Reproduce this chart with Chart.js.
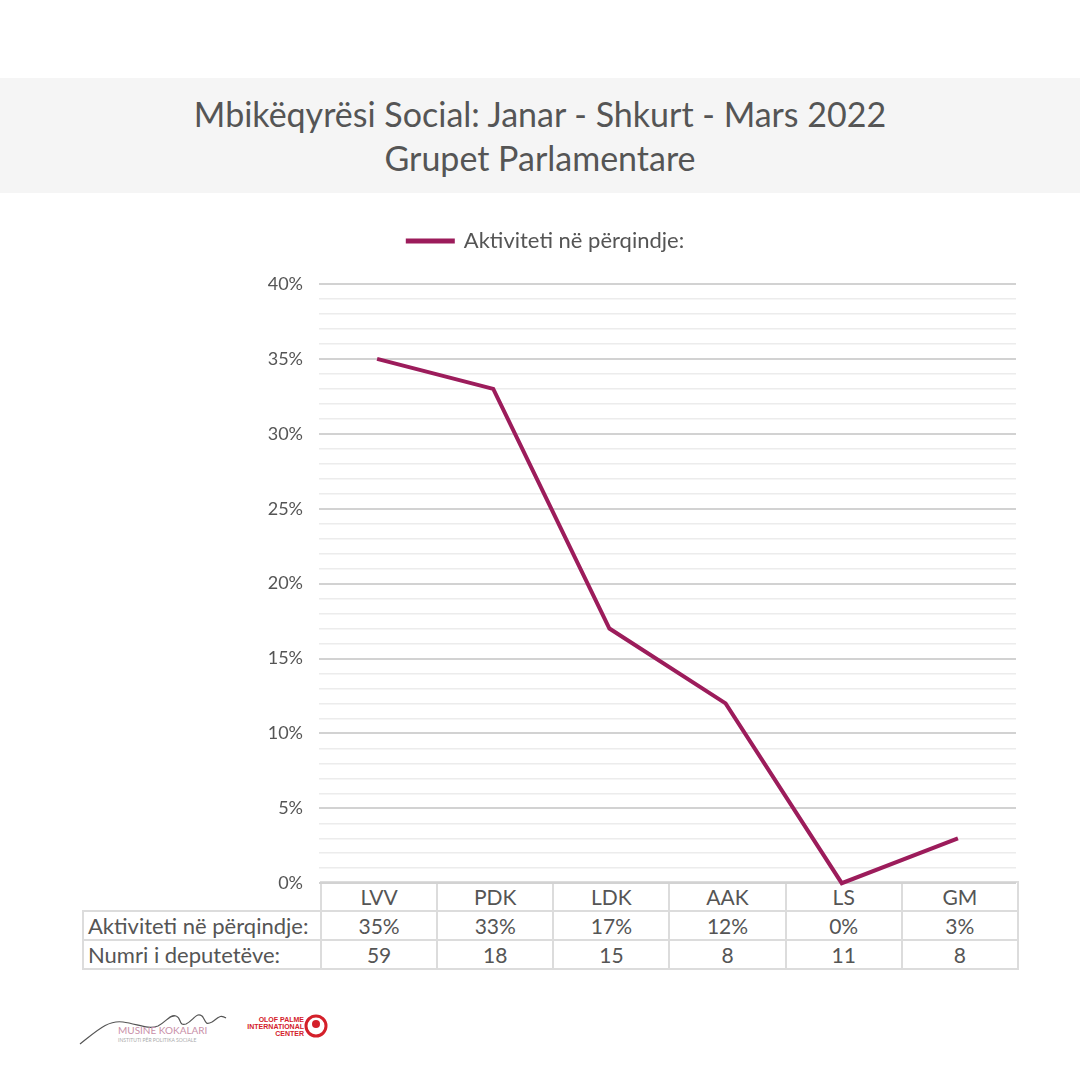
<!DOCTYPE html>
<html>
<head>
<meta charset="utf-8">
<script src="https://cdn.jsdelivr.net/npm/chart.js@4/dist/chart.umd.min.js"></script>
<style>
  html, body { margin: 0; padding: 0; background: #fff; }
  body { width: 1080px; height: 1080px; position: relative; overflow: hidden; font-family: 'Lato', sans-serif; color: #555; }
  .banner { position: absolute; left: 0; top: 78px; width: 1080px; height: 115px; background: #f5f5f5; }
  .banner h1 { margin: 0; padding-top: 14px; font-weight: 400; font-size: 34px; line-height: 44px; text-align: center; color: #555; }
  .wrap { position: absolute; left: 0; top: 220px; width: 1080px; height: 690px; z-index: 2; }
  table.datos { position: absolute; left: 82px; top: 881px; border-collapse: collapse; font-size: 21px; color: #555; z-index: 1; }
  table.datos td { border: 2px solid #dcdcdc; text-align: center; padding: 0; height: 27px; line-height: 26px; }
  table.datos td.etq { text-align: left; padding-left: 4px; font-size: 22px; }
  table.datos td.vacio { border: none; border-bottom: 2px solid #dcdcdc; }
  .logos { position: absolute; left: 78px; top: 1000px; width: 300px; height: 50px; }
</style>
</head>
<body>
<div class="banner"><h1>Mbikëqyrësi Social: Janar - Shkurt - Mars 2022<br>Grupet Parlamentare</h1></div>
<div class="wrap"><canvas id="chart-grupos"></canvas></div>
<table class="datos" id="tabla-datos"></table>
<svg class="logos" viewBox="0 0 300 50" xmlns="http://www.w3.org/2000/svg">
  <path d="M2 44 C 20 30, 30 20, 45 22 C 60 24, 70 30, 80 26 C 88 22, 92 14, 98 16 C 104 18, 100 26, 108 24 C 116 20, 118 12, 124 16 C 128 20, 126 26, 134 22 C 140 18, 142 14, 148 18" fill="none" stroke="#555" stroke-width="1.2"/>
  <text x="40" y="34" font-family="Lato, sans-serif" font-size="10" fill="#c98fa8">MUSINE KOKALARI</text>
  <text x="40" y="42" font-family="Lato, sans-serif" font-size="5" fill="#aaa">INSTITUTI PËR POLITIKA SOCIALE</text>
  <text x="226" y="22" text-anchor="end" font-family="Liberation Sans, sans-serif" font-weight="700" font-size="7" fill="#d4202a">OLOF PALME</text>
  <text x="226" y="29" text-anchor="end" font-family="Liberation Sans, sans-serif" font-weight="700" font-size="7" fill="#d4202a">INTERNATIONAL</text>
  <text x="226" y="36" text-anchor="end" font-family="Liberation Sans, sans-serif" font-weight="700" font-size="7" fill="#d4202a">CENTER</text>
  <circle cx="238" cy="26" r="10" fill="none" stroke="#d4202a" stroke-width="3"/>
  <circle cx="238" cy="24" r="4" fill="#d4202a"/>
</svg>
<script>
'use strict';

const GRUPOS = ['LVV', 'PDK', 'LDK', 'AAK', 'LS', 'GM'];
const ACTIVIDAD = [35, 33, 17, 12, 0, 3];
const DEPUTADOS = [59, 18, 15, 8, 11, 8];
const ETIQUETA_SERIE = 'Aktiviteti në përqindje:';
const ETIQUETA_DEPUTADOS = 'Numri i deputetëve:';
const Y_MAX = 40;

const COLOR_LINEA = '#9c1c5b';
const FUENTE = "'Lato', sans-serif";

const renderTabla = () => {
    const tabla = document.getElementById('tabla-datos');
    const ancho = (1016 - 319) / GRUPOS.length;
    const cab = `<tr><td class="vacio" style="width:237px"></td>${GRUPOS.map((g) => `<td style="width:${ancho - 2}px">${g}</td>`).join('')}</tr>`;
    const fila1 = `<tr><td class="etq">${ETIQUETA_SERIE}</td>${ACTIVIDAD.map((v) => `<td>${v}%</td>`).join('')}</tr>`;
    const fila2 = `<tr><td class="etq">${ETIQUETA_DEPUTADOS}</td>${DEPUTADOS.map((v) => `<td>${v}</td>`).join('')}</tr>`;
    tabla.innerHTML = cab + fila1 + fila2;
};

renderTabla();

// deja mas aire entre la leyenda y el area del grafico, y la corre un poco a la derecha
const ajusteLeyenda = {
    id: 'ajusteLeyenda',
    afterInit: (chart) => {
        const fitOrig = chart.legend.fit;
        chart.legend.fit = function () {
            fitOrig.call(this);
            this.height += 22;
        };
        const drawOrig = chart.legend.draw;
        chart.legend.draw = function (...args) {
            this.ctx.save();
            this.ctx.translate(38, 0);
            drawOrig.apply(this, args);
            this.ctx.restore();
        };
    },
};

new Chart(document.getElementById('chart-grupos'), {
    type: 'line',
    data: {
        labels: GRUPOS,
        datasets: [{
            label: ETIQUETA_SERIE,
            data: ACTIVIDAD,
            borderColor: COLOR_LINEA,
            backgroundColor: COLOR_LINEA,
            borderWidth: 4,
            tension: 0,
            pointRadius: 0,
            fill: false,
            clip: false,
        }],
    },
    plugins: [ajusteLeyenda],
    options: {
        responsive: true,
        maintainAspectRatio: false,
        animation: false,
        layout: { padding: { top: 0, right: 64, bottom: 0, left: 0 } },
        plugins: {
            legend: {
                position: 'top',
                labels: {
                    color: '#555',
                    font: { family: FUENTE, size: 22 },
                    boxWidth: 45,
                    boxHeight: 1,
                    generateLabels: (chart) => Chart.defaults.plugins.legend.labels.generateLabels(chart)
                        .map((item) => ({ ...item, lineWidth: 4 })),
                },
            },
            tooltip: { enabled: false },
        },
        scales: {
            x: {
                display: false,
                offset: true,
            },
            y: {
                min: 0,
                max: Y_MAX,
                border: { display: false },
                afterFit: (s) => { s.width = 319; },
                grid: {
                    drawTicks: false,
                    color: (ctx) => (ctx.tick.value % 5 === 0 ? '#d2d2d2' : '#ececec'),
                    lineWidth: (ctx) => (ctx.tick.value % 5 === 0 ? 2 : 1.5),
                },
                ticks: {
                    stepSize: 1,
                    autoSkip: false,
                    padding: 16,
                    color: '#555',
                    font: { family: FUENTE, size: 18 },
                    callback: (v) => (v % 5 === 0 ? `${v}%` : ''),
                },
            },
        },
    },
});
</script>
</body>
</html>
